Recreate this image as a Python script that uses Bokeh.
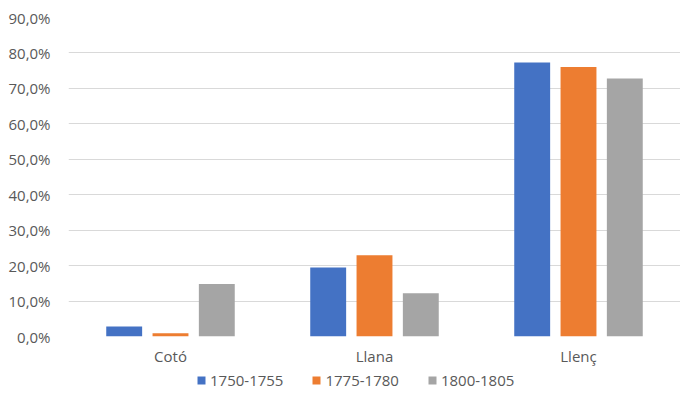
from bokeh.plotting import figure
from bokeh.layouts import column
from bokeh.models import ColumnDataSource, FixedTicker, Range1d, FactorRange, Legend, LegendItem
from bokeh.transform import dodge
from bokeh.embed import file_html
from bokeh.resources import INLINE

categories = ["Cotó", "Llana", "Llenç"]
series_names = ["1750-1755", "1775-1780", "1800-1805"]
s1750 = [2.8, 19.5, 77.3]
s1775 = [0.9, 22.9, 76.0]
s1800 = [14.8, 12.2, 72.8]
colors = ["#4472C4", "#ED7D31", "#A5A5A5"]
y_ticks = [0, 10, 20, 30, 40, 50, 60, 70, 80, 90]
y_tick_labels = ["0,0%", "10,0%", "20,0%", "30,0%", "40,0%", "50,0%", "60,0%", "70,0%", "80,0%", "90,0%"]

src = ColumnDataSource(dict(cat=categories, a=s1750, b=s1775, c=s1800))

p = figure(x_range=FactorRange(*categories, range_padding=0), y_range=Range1d(0, 90),
           width=680, height=368, output_backend="svg", toolbar_location=None,
           min_border_left=68, min_border_right=0, min_border_top=17, min_border_bottom=10)
p.outline_line_color = None

font = "Open Sans"
fs = "15px"
for col, off, color in zip(["a", "b", "c"], [-0.227, 0.0, 0.227], colors):
    p.vbar(x=dodge("cat", off, range=p.x_range), top=col, width=0.176, source=src,
           fill_color=color, line_color=None)

p.yaxis.ticker = FixedTicker(ticks=y_ticks)
p.yaxis.major_label_overrides = {t: l for t, l in zip(y_ticks, y_tick_labels)}
p.yaxis.axis_line_color = None
p.yaxis.major_tick_line_color = None
p.yaxis.minor_tick_line_color = None
p.yaxis.major_label_text_font = font
p.yaxis.major_label_text_font_size = fs
p.yaxis.major_label_text_color = "#595959"
p.yaxis.major_label_standoff = 12

p.xaxis.axis_line_color = None
p.xaxis.major_tick_line_color = None
p.xaxis.minor_tick_line_color = None
p.xaxis.major_label_text_font = font
p.xaxis.major_label_text_font_size = fs
p.xaxis.major_label_text_color = "#595959"
p.xaxis.major_label_standoff = 3

p.xgrid.grid_line_color = None
p.ygrid.grid_line_color = "#d9d9d9"
p.ygrid.grid_line_width = 1

# legend figure (its key renderers sit outside the visible range)
lg = figure(width=680, height=34, output_backend="svg", toolbar_location=None,
            x_range=Range1d(0, 1), y_range=Range1d(0, 1),
            min_border_left=0, min_border_right=0, min_border_top=0, min_border_bottom=0)
lg.axis.visible = False
lg.grid.grid_line_color = None
lg.outline_line_color = None
lrs = []
for color in colors:
    lrs.append(lg.vbar(x=[-10], top=[-10], width=0.1, fill_color=color, line_color=None))

legend = Legend(items=[LegendItem(label=n, renderers=[r]) for n, r in zip(series_names, lrs)],
                orientation="horizontal", location=(128, 12),
                label_text_font=font, label_text_font_size=fs, label_text_color="#595959",
                glyph_width=10, glyph_height=10, spacing=28, border_line_color=None,
                background_fill_alpha=0, margin=0, padding=4, label_standoff=4)
lg.add_layout(legend, "center")

layout = column(p, lg, spacing=0)
open("out.html", "w").write(file_html(layout, INLINE))
